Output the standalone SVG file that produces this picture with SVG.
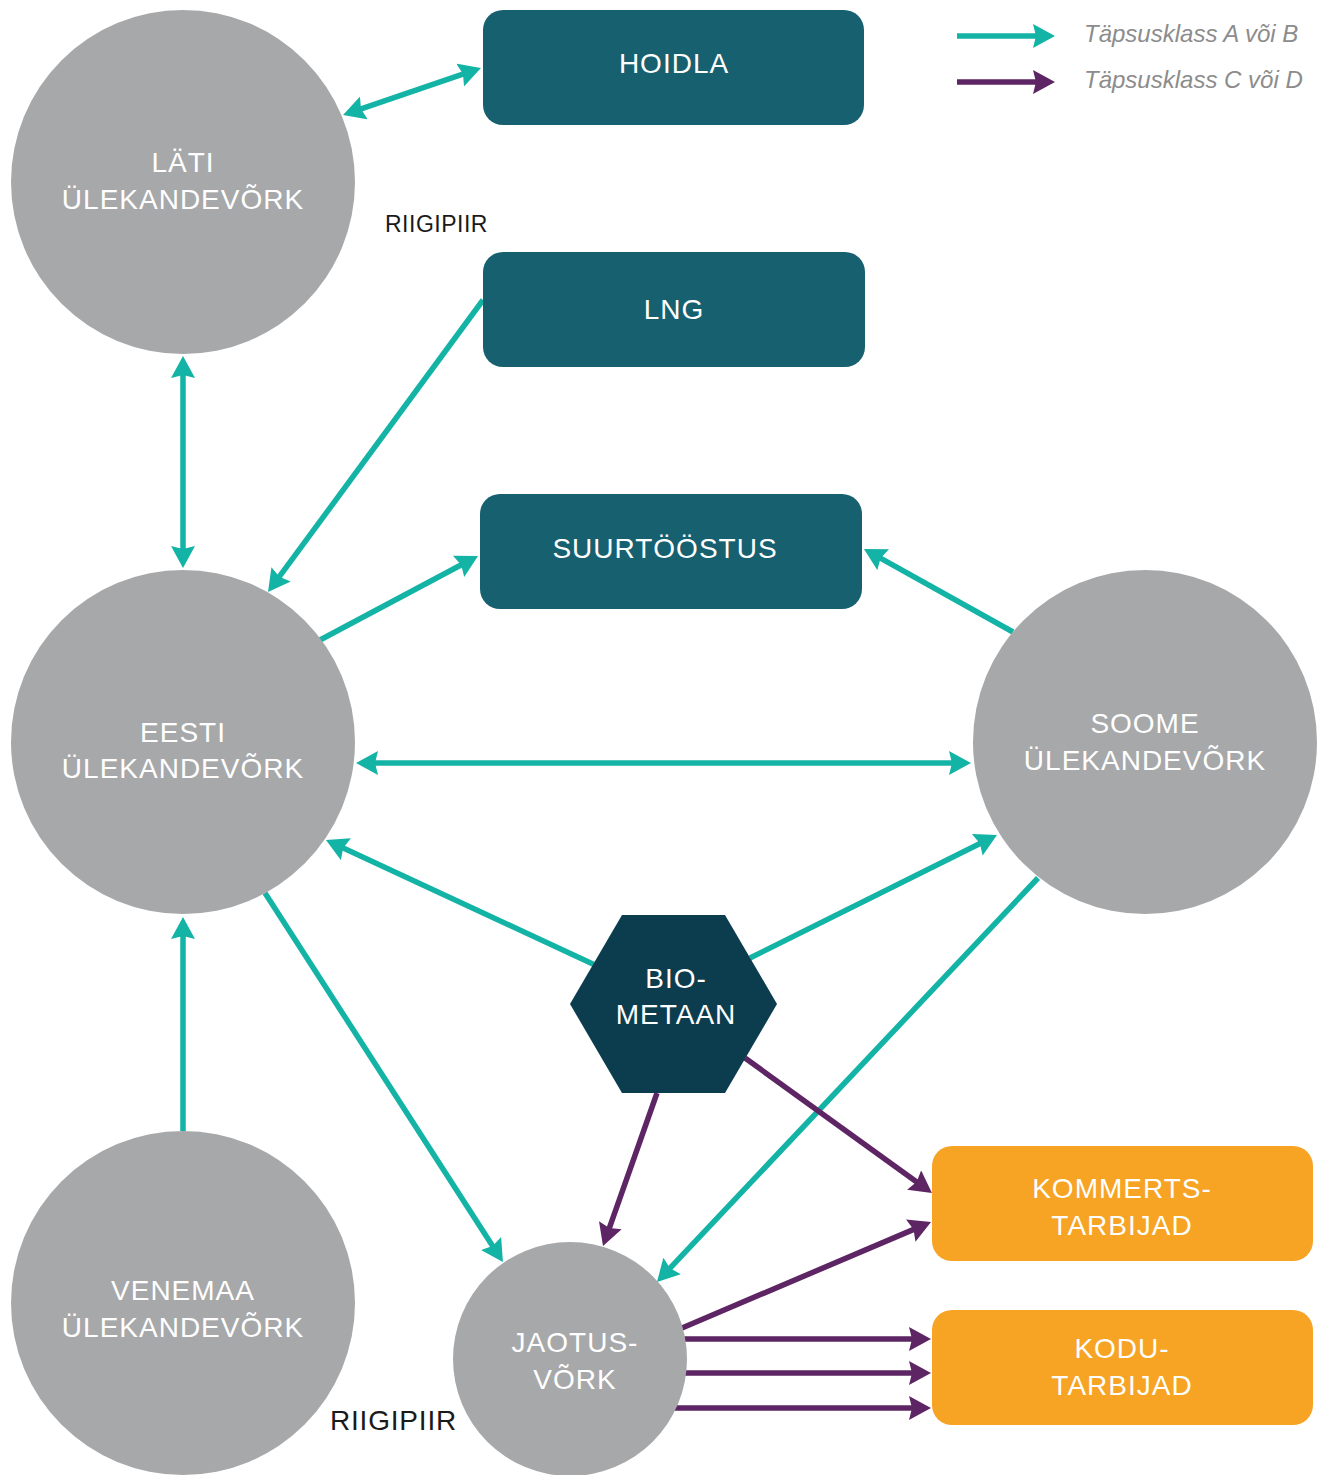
<svg xmlns="http://www.w3.org/2000/svg" width="1317" height="1475" viewBox="0 0 1317 1475">
<defs>
<style>
.circ{fill:#a7a8aa}
.box{fill:#17606f}
.cons{fill:#f7a324}
.lbl{font-family:"Liberation Sans","DejaVu Sans",sans-serif;font-size:28px;fill:#ffffff;text-anchor:middle;letter-spacing:1px}
.ab{stroke:#13b3a5;stroke-width:5.5;fill:none}
.cd{stroke:#5e2565;stroke-width:5.5;fill:none}
.tA{marker-end:url(#hA)}
.tAA{marker-end:url(#hA);marker-start:url(#hA)}
.tC{marker-end:url(#hC)}
.legend{font-family:"Liberation Sans","DejaVu Sans",sans-serif;font-size:24px;font-style:italic;fill:#8c8c8c}
.border{font-family:"Liberation Sans","DejaVu Sans",sans-serif;fill:#1a1a1a}
</style>
<marker id="hA" markerUnits="userSpaceOnUse" markerWidth="22" markerHeight="24" viewBox="0 0 22 24" refX="16" refY="12" orient="auto-start-reverse">
<path d="M0,0 L22,12 L0,24 L3,12 z" fill="#13b3a5"/>
</marker>
<marker id="hC" markerUnits="userSpaceOnUse" markerWidth="22" markerHeight="24" viewBox="0 0 22 24" refX="16" refY="12" orient="auto-start-reverse">
<path d="M0,0 L22,12 L0,24 L3,12 z" fill="#5e2565"/>
</marker>
</defs>
<rect width="1317" height="1475" fill="#ffffff"/>

<g id="connectors">
<line class="ab tAA" x1="348.7" y1="113.1" x2="475.3" y2="69.9"/>
<line class="ab tAA" x1="183" y1="362" x2="183" y2="562"/>
<line class="ab tA" x1="483" y1="300" x2="271.6" y2="587.2"/>
<line class="ab tA" x1="320" y1="640" x2="472.7" y2="558.8"/>
<line class="ab tA" x1="1013" y1="632" x2="869.2" y2="551.9"/>
<line class="ab tAA" x1="362" y1="763" x2="965" y2="763"/>
<line class="ab tA" x1="595" y1="965" x2="331.4" y2="842.5"/>
<line class="ab tA" x1="750" y1="958" x2="991.6" y2="837.7"/>
<line class="ab tA" x1="265" y1="893" x2="499.7" y2="1257"/>
<line class="ab tA" x1="1038" y1="878" x2="661.1" y2="1277.6"/>
<line class="ab tA" x1="183" y1="1131" x2="183" y2="923"/>
<line class="cd tC" x1="657" y1="1093" x2="605" y2="1240.3"/>
<line class="cd tC" x1="745" y1="1058" x2="927.1" y2="1189.5"/>
<line class="cd tC" x1="682" y1="1328" x2="925.5" y2="1224.4"/>
<line class="cd tC" x1="683" y1="1339" x2="925" y2="1339"/>
<line class="cd tC" x1="683" y1="1373" x2="925" y2="1373"/>
<line class="cd tC" x1="673" y1="1408" x2="925" y2="1408"/>
</g>

<g id="legend">
<line class="ab tA" x1="957" y1="36" x2="1049" y2="36"/>
<line class="cd tC" x1="957" y1="82" x2="1049" y2="82"/>
<text class="legend" x="1084" y="42">Täpsusklass A või B</text>
<text class="legend" x="1084" y="88">Täpsusklass C või D</text>
</g>

<g id="lati">
<circle class="circ" cx="183" cy="182" r="172"/>
<text class="lbl" x="183" y="172">LÄTI</text>
<text class="lbl" x="183" y="209">ÜLEKANDEVÕRK</text>
</g>
<g id="eesti">
<circle class="circ" cx="183" cy="742" r="172"/>
<text class="lbl" x="183" y="742">EESTI</text>
<text class="lbl" x="183" y="778">ÜLEKANDEVÕRK</text>
</g>
<g id="venemaa">
<circle class="circ" cx="183" cy="1303" r="172"/>
<text class="lbl" x="183" y="1300">VENEMAA</text>
<text class="lbl" x="183" y="1337">ÜLEKANDEVÕRK</text>
</g>
<g id="soome">
<circle class="circ" cx="1145" cy="742" r="172"/>
<text class="lbl" x="1145" y="733">SOOME</text>
<text class="lbl" x="1145" y="770">ÜLEKANDEVÕRK</text>
</g>
<g id="jaotus">
<circle class="circ" cx="570" cy="1359" r="117"/>
<text class="lbl" x="575" y="1352">JAOTUS-</text>
<text class="lbl" x="575" y="1389">VÕRK</text>
</g>
<g id="hoidla">
<rect class="box" x="483" y="10" width="381" height="115" rx="20"/>
<text class="lbl" x="674" y="73">HOIDLA</text>
</g>
<g id="lng">
<rect class="box" x="483" y="252" width="382" height="115" rx="20"/>
<text class="lbl" x="674" y="319">LNG</text>
</g>
<g id="suurtoostus">
<rect class="box" x="480" y="494" width="382" height="115" rx="20"/>
<text class="lbl" x="665" y="558">SUURTÖÖSTUS</text>
</g>
<g id="biometaan">
<polygon points="622,915 725,915 777,1004 725,1093 622,1093 570,1004" fill="#0c3d4f"/>
<text class="lbl" x="676" y="988">BIO-</text>
<text class="lbl" x="676" y="1024">METAAN</text>
</g>
<g id="kommerts">
<rect class="cons" x="932" y="1146" width="381" height="115" rx="20"/>
<text class="lbl" x="1122" y="1198">KOMMERTS-</text>
<text class="lbl" x="1122" y="1235">TARBIJAD</text>
</g>
<g id="kodu">
<rect class="cons" x="932" y="1310" width="381" height="115" rx="20"/>
<text class="lbl" x="1122" y="1358">KODU-</text>
<text class="lbl" x="1122" y="1395">TARBIJAD</text>
</g>

<text class="border" x="385" y="232" font-size="23" letter-spacing="0.5">RIIGIPIIR</text>
<text class="border" x="330" y="1430" font-size="28" letter-spacing="0.8">RIIGIPIIR</text>
</svg>
